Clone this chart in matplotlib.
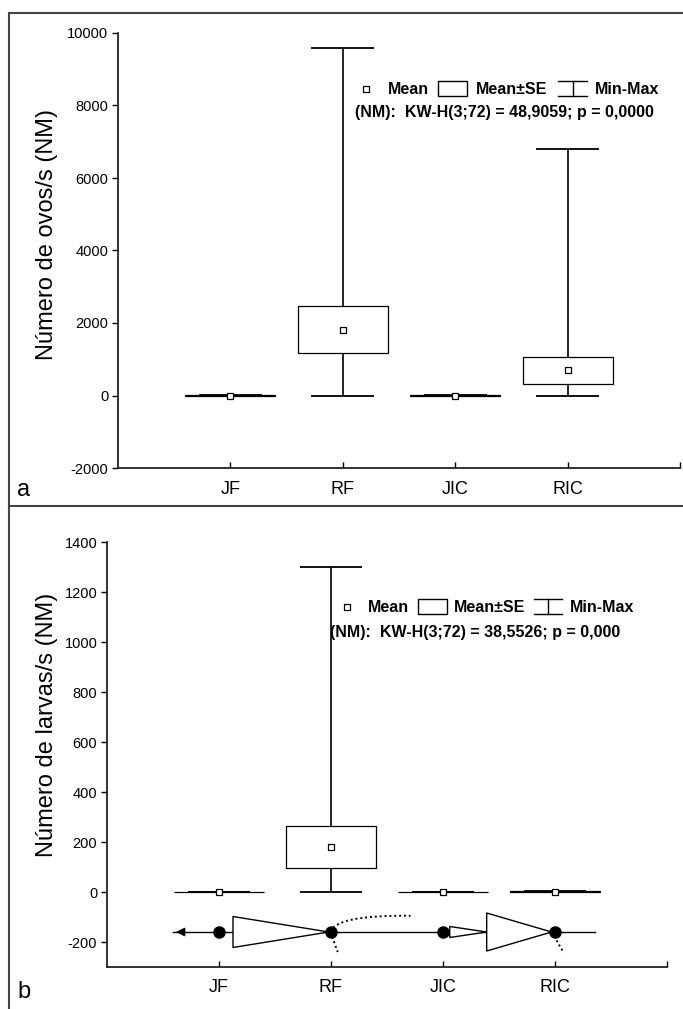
import matplotlib.pyplot as plt
from matplotlib.patches import Rectangle, Polygon, PathPatch
from matplotlib.path import Path
from matplotlib.lines import Line2D

plt.rcParams['font.family'] = ['Liberation Sans', 'DejaVu Sans']
plt.rcParams['axes.unicode_minus'] = False

groups = ["JF", "RF", "JIC", "RIC"]

# ovos (panel a)
ovos_mean = [0, 1820, 0, 690]
ovos_se = [12, 660, 12, 385]
ovos_min = [0, 0, 0, 0]
ovos_max = [10, 9580, 10, 6800]

# larvas (panel b)
larv_mean = [0, 180, 0, 2]
larv_se = [1, 83, 1, 3]
larv_min = [0, 0, 0, 0]
larv_max = [1, 1300, 1, 6]

stat_a = "(NM):  KW-H(3;72) = 48,9059; p = 0,0000"
stat_b = "(NM):  KW-H(3;72) = 38,5526; p = 0,000"

# trajectory sketch under panel b
dot_x = [1, 2, 3, 4]
path_y = -160
arrow_tip = 0.59
line_end = 4.36
tri_big1 = (1.125, 1.98, 62)   # base x, apex x, half height
tri_small = (3.06, 3.39, 22)
tri_big2 = (3.39, 3.97, 76)

W, H = 683, 1009
fig = plt.figure(figsize=(W / 100, H / 100), dpi=100)


def px_axes(l, t, r, b):
    return fig.add_axes([l / W, 1 - b / H, (r - l) / W, (b - t) / H])


def draw_boxes(ax, mean, se, mn, mx):
    for i, (m, s, lo, hi) in enumerate(zip(mean, se, mn, mx)):
        x = i + 1
        ax.vlines(x, lo, hi, color='k', lw=1.2, zorder=2)
        ax.hlines([lo, hi], x - 0.28, x + 0.28, color='k', lw=1.3, zorder=4)
        ax.add_patch(Rectangle((x - 0.4, m - s), 0.8, 2 * s, fc='white',
                               ec='k', lw=0.9, zorder=3))
        ax.plot(x, m, 's', ms=5, mfc='white', mec='k', mew=0.9, zorder=5)


def style(ax, ylim, yticks):
    ax.set_xlim(0, 5)
    ax.set_ylim(*ylim)
    ax.set_yticks(yticks)
    ax.set_xticks([1, 2, 3, 4, 5])
    ax.set_xticklabels(groups + [""], fontsize=13)
    ax.tick_params(axis='y', direction='out', length=4, width=1, labelsize=10.5, pad=3)
    ax.tick_params(axis='x', direction='in', length=4, width=1, pad=9)
    for sp in ['top', 'right']:
        ax.spines[sp].set_visible(False)
    for sp in ['left', 'bottom']:
        ax.spines[sp].set_linewidth(1.3)
        ax.spines[sp].set_color('#222222')


def legend(y1, y2, xm, xmean, box, xse, wh, xmm, xstat, stat):
    fig.add_artist(Line2D([xm / W], [1 - y1 / H], marker='s', ms=4.5, mfc='white',
                          mec='k', mew=0.9, transform=fig.transFigure))
    kw = dict(fontsize=11.5, fontweight='bold', va='center', ha='left')
    fig.text(xmean / W, 1 - y1 / H, "Mean", **kw)
    fig.add_artist(Rectangle((box[0] / W, 1 - (y1 + 7) / H), (box[1] - box[0]) / W, 15 / H,
                             fill=False, ec='k', lw=1.0, transform=fig.transFigure))
    fig.text(xse / W, 1 - y1 / H, "Mean\u00b1SE", **kw)
    xc = (wh[0] + wh[1]) / 2
    for yy in (y1 - 8, y1 + 7):
        fig.add_artist(Line2D([wh[0] / W, wh[1] / W], [1 - yy / H] * 2, color='k', lw=1.0,
                              transform=fig.transFigure))
    fig.add_artist(Line2D([xc / W] * 2, [1 - (y1 - 8) / H, 1 - (y1 + 7) / H], color='k',
                          lw=1.0, transform=fig.transFigure))
    fig.text(xmm / W, 1 - y1 / H, "Min-Max", **kw)
    fig.text(xstat / W, 1 - y2 / H, stat, **kw)


# panel a
axa = px_axes(118, 33, 680, 468)
draw_boxes(axa, ovos_mean, ovos_se, ovos_min, ovos_max)
style(axa, (-2000, 10000), range(-2000, 10001, 2000))
fig.text(47 / W, 1 - 235 / H, "Número de ovos/s (NM)", rotation=90, ha='center',
         va='center', fontsize=17)
legend(89, 113, 366, 388, (438, 467), 476, (558, 587), 595, 355, stat_a)
fig.text(17 / W, 1 - 490 / H, "a", fontsize=17, va='center')

# panel b
axb = px_axes(107, 542, 667, 967)
draw_boxes(axb, larv_mean, larv_se, larv_min, larv_max)
style(axb, (-300, 1400), range(-200, 1401, 200))
fig.text(47 / W, 1 - 725 / H, "Número de larvas/s (NM)", rotation=90, ha='center',
         va='center', fontsize=17)
legend(607, 633, 347, 368, (418, 447), 454, (534, 562), 570, 330, stat_b)
fig.text(17 / W, 1 - 992 / H, "b", fontsize=17, va='center')

# sketch: line, arrow, triangles, dots, dotted curves
axb.plot([arrow_tip, line_end], [path_y, path_y], color='k', lw=1.0, zorder=2)
axb.annotate("", xy=(arrow_tip, path_y), xytext=(arrow_tip + 0.12, path_y),
             arrowprops=dict(arrowstyle='-|>', color='k', lw=1.0, mutation_scale=13))
for bx, ax_, hh in (tri_big1, tri_small, tri_big2):
    axb.add_patch(Polygon([(bx, path_y - hh), (bx, path_y + hh), (ax_, path_y)],
                          closed=True, fc='white', ec='k', lw=1.0, zorder=3))
axb.plot(dot_x, [path_y] * 4, 'o', color='k', ms=8, zorder=5)
curves = [
    [(2.0, -160), (2.03, -92), (2.71, -95)],
    [(2.0, -160), (2.03, -205), (2.06, -240)],
    [(3.97, -160), (4.02, -200), (4.08, -244)],
]
for pts in curves:
    axb.add_patch(PathPatch(Path(pts, [Path.MOVETO, Path.CURVE3, Path.CURVE3]),
                            fill=False, ec='k', lw=1.4, ls=(0, (1, 1.5)), zorder=4))

# outer frame
frame = dict(color='#444444', lw=1.5, transform=fig.transFigure)
fig.add_artist(Line2D([9 / W, 1], [1 - 13 / H] * 2, **frame))
fig.add_artist(Line2D([9 / W] * 2, [1 - 13 / H, 0], **frame))
fig.add_artist(Line2D([9 / W, 1], [1 - 506 / H] * 2, **frame))

fig.savefig("out.png", dpi=100)
